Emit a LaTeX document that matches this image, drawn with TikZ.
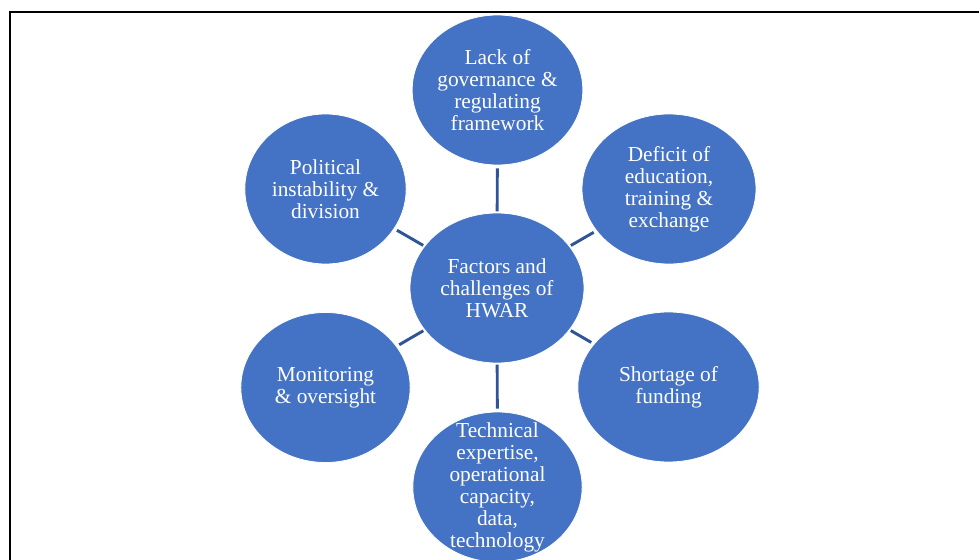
\documentclass[tikz,border=0pt]{standalone}
\usepackage{fontspec}
\setmainfont{Liberation Serif}
\usetikzlibrary{shapes.geometric}
\definecolor{bubblefill}{HTML}{4472C4}
\definecolor{spokeblue}{HTML}{2F5597}

\begin{document}
\begin{tikzpicture}[x=0.75pt, y=-0.75pt,
  bubble/.style={ellipse, fill=bubblefill, draw=white, line width=0.6pt, inner sep=-4pt,
    minimum height=112.5pt, text=white, align=center, font=\fontsize{16}{16.5}\selectfont},
  spoke/.style={draw=spokeblue, line width=2.2pt, shorten <=1pt, shorten >=2.2pt}]
\clip (0,0) rectangle (979,560);
\draw[line width=1.1pt] (10,560) -- (10,12) -- (979,12);
\node[bubble, minimum width=130.5pt] (hub) at (497,288) {Factors and\\challenges of\\HWAR};
\node[bubble, minimum width=128pt] (gov) at (497.5,90) {Lack of\\governance \&\\regulating\\framework};
\node[bubble, minimum width=130.5pt] (edu) at (669,189) {Deficit of\\education,\\training \&\\exchange};
\node[bubble, minimum width=136pt] (fund) at (668.5,387) {Shortage of\\funding};
\node[bubble, minimum width=127pt, inner sep=-10pt] (tech) at (497.5,487)
  {Technical\\expertise,\\operational\\capacity,\\data,\\technology};
\node[bubble, minimum width=127pt] (monit) at (325.5,387.5) {Monitoring\\\& oversight};
\node[bubble, minimum width=121pt] (polit) at (325.5,189) {Political\\instability \&\\division};
\foreach \leaf in {gov, edu, fund, tech, monit, polit}
  \draw[spoke] (hub) -- (\leaf);
\end{tikzpicture}
\end{document}
